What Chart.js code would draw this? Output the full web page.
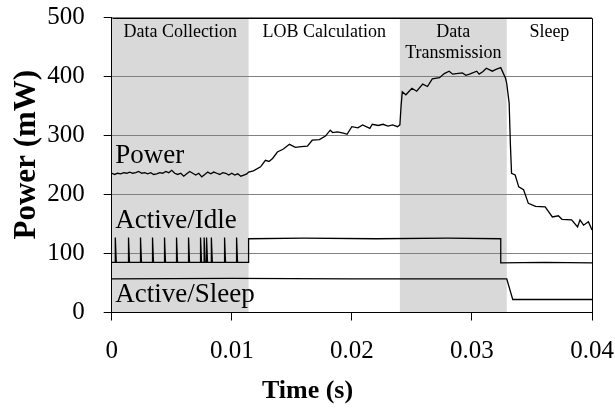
<!DOCTYPE html>
<html>
<head>
<meta charset="utf-8">
<script src="https://cdn.jsdelivr.net/npm/chart.js@4"></script>
<style>
  html, body { margin: 0; padding: 0; background: #fff; }
  #wrap { width: 615px; height: 408px; }
</style>
</head>
<body>
<div id="wrap"><canvas id="chart" width="615" height="408"></canvas></div>
<script>
// Power trace (mW) over time (s)
var powerTime = [0, 0.00025, 0.0005, 0.00075, 0.001, 0.00125, 0.0015, 0.00175, 0.002, 0.00225, 0.0025, 0.00275,
    0.003, 0.00325, 0.0035, 0.00375, 0.004, 0.00425, 0.0045, 0.00475, 0.005, 0.00525, 0.0055, 0.00575,
    0.006, 0.00625, 0.0065, 0.00675, 0.007, 0.00725, 0.0075, 0.00775, 0.008, 0.00825, 0.0085, 0.00875,
    0.009, 0.00925, 0.0095, 0.00975, 0.010, 0.01025, 0.0105, 0.01075, 0.011, 0.01125, 0.0114,
    0.0118, 0.0124, 0.0128, 0.0131, 0.0134, 0.0138, 0.0143, 0.0148, 0.0153, 0.0158, 0.0163, 0.0167,
    0.0173, 0.0178, 0.0182, 0.0184, 0.0188, 0.0193, 0.0196, 0.0200, 0.0205, 0.0209, 0.0215, 0.0217,
    0.0222, 0.0226, 0.0230, 0.0234, 0.0238, 0.0240,
    0.0241, 0.0242, 0.0245, 0.0250, 0.0254, 0.0259, 0.0263, 0.0267, 0.0273, 0.0277, 0.0281, 0.0284,
    0.0287, 0.0292, 0.0295, 0.0298, 0.0304, 0.0306, 0.0309, 0.0312, 0.0317, 0.0320, 0.0324, 0.0328,
    0.0329, 0.0331, 0.0332, 0.0333, 0.0336, 0.0339, 0.0343, 0.0347, 0.0353, 0.0361, 0.0367, 0.0372,
    0.0375, 0.0383, 0.0388, 0.0390, 0.0393, 0.0397, 0.0400];
var powerValues = [236, 234, 236, 235, 237, 236, 238, 236, 237, 239, 236, 237,
    235, 237, 234, 235, 237, 236, 239, 237, 241, 236, 234, 236,
    231, 235, 239, 236, 233, 236, 230, 234, 238, 235, 238, 236,
    234, 237, 236, 233, 236, 233, 235, 231, 233, 235, 238,
    240, 247, 258, 256, 261, 272, 277, 285, 280, 281, 282, 292,
    293, 299, 309, 305, 306, 304, 302, 315, 313, 318, 312, 319,
    317, 319, 316, 318, 315, 318,
    350, 374, 369, 380, 375, 387, 383, 396, 398, 405, 409, 404,
    405, 406, 402, 404, 409, 404, 408, 414, 409, 412, 415, 397,
    388, 355, 287, 236, 233, 213, 208, 185, 180, 179, 162, 164,
    158, 157, 145, 157, 148, 154, 140];

// Active/Idle trace
var idleTime = [0, 0.0003, 0.0003, 0.00038, 0.0014, 0.0014, 0.00148, 0.0024, 0.0024, 0.00248,
    0.0034, 0.0034, 0.00348, 0.0044, 0.0044, 0.00448, 0.0054, 0.0054, 0.00548, 0.0064, 0.0064, 0.00648,
    0.0074, 0.0074, 0.00748, 0.0077, 0.0077, 0.00778, 0.0079, 0.0079, 0.00798, 0.0083, 0.0083, 0.00838,
    0.0094, 0.0094, 0.00948, 0.0104, 0.0104, 0.01048, 0.0114, 0.0114, 0.016, 0.022, 0.028, 0.0324,
    0.0324, 0.036, 0.0400];
var idleValues = [85, 85, 127, 85, 85, 127, 85, 85, 127, 85,
    85, 127, 85, 85, 127, 85, 85, 127, 85, 85, 127, 85,
    85, 127, 85, 85, 127, 85, 85, 127, 85, 85, 127, 85,
    85, 127, 85, 85, 127, 85, 85, 125, 126, 125, 126, 125,
    84, 85, 84];

// Active/Sleep trace
var sleepTime = [0, 0.010, 0.020, 0.0329, 0.0334, 0.037, 0.0400];
var sleepValues = [57, 58, 57, 57, 22, 22, 22];

// Phases (shaded ones marked)
var phaseStart = [0, 0.0114, 0.0240, 0.0329];
var phaseEnd = [0.0114, 0.0240, 0.0329, 0.0400];
var phaseShaded = [true, false, true, false];
var phaseNames = [["Data Collection"], ["LOB Calculation"], ["Data", "Transmission"], ["Sleep"]];

var seriesNames = ["Power", "Active/Idle", "Active/Sleep"];
var seriesNameAt = [[0.0003, 253], [0.0003, 143], [0.0003, 18]];

var xTickLabels = ["0", "0.01", "0.02", "0.03", "0.04"];
var yTickLabels = ["0", "100", "200", "300", "400", "500"];
var xTitle = "Time (s)";
var yTitle = "Power (mW)";

var serif = "'Liberation Serif', 'Times New Roman', serif";

function toPoints(xs, ys) {
    return xs.map(function (x, i) { return { x: x, y: ys[i] }; });
}

// tick padding otherwise leaks into the plot margins
function noEdgePadding(s) {
    s.paddingTop = 0;
    s.paddingBottom = 0;
    s.paddingLeft = 0;
    s.paddingRight = 0;
}

var phasePlugin = {
    id: 'phases',
    beforeDraw: function (chart) {
        var ctx = chart.ctx, xs = chart.scales.x, area = chart.chartArea;
        ctx.save();
        ctx.fillStyle = '#d9d9d9';
        phaseStart.forEach(function (s, i) {
            if (!phaseShaded[i]) return;
            var x0 = xs.getPixelForValue(s), x1 = xs.getPixelForValue(phaseEnd[i]);
            ctx.fillRect(x0, area.top, x1 - x0, area.bottom - area.top);
        });
        ctx.restore();
    },
    afterDatasetsDraw: function (chart) {
        var ctx = chart.ctx, xs = chart.scales.x, ys = chart.scales.y, area = chart.chartArea;
        ctx.save();
        // phase names
        ctx.fillStyle = '#000';
        ctx.font = '18px ' + serif;
        ctx.textAlign = 'center';
        ctx.textBaseline = 'middle';
        phaseNames.forEach(function (lines, i) {
            var cx = xs.getPixelForValue((phaseStart[i] + phaseEnd[i]) / 2);
            lines.forEach(function (t, j) {
                ctx.fillText(t, cx, ys.getPixelForValue(475) + j * 21);
            });
        });
        // series names
        ctx.font = '27px ' + serif;
        ctx.textAlign = 'left';
        ctx.textBaseline = 'alphabetic';
        seriesNames.forEach(function (t, i) {
            ctx.fillText(t, xs.getPixelForValue(seriesNameAt[i][0]), ys.getPixelForValue(seriesNameAt[i][1]));
        });
        // frame top / right
        ctx.strokeStyle = '#000';
        ctx.lineWidth = 1;
        ctx.beginPath();
        ctx.moveTo(Math.round(area.left) + 0.5, Math.round(area.top) + 0.5);
        ctx.lineTo(Math.round(area.right) + 0.5, Math.round(area.top) + 0.5);
        ctx.lineTo(Math.round(area.right) + 0.5, Math.round(area.bottom) + 0.5);
        ctx.stroke();
        // axis titles
        ctx.font = 'bold 26px ' + serif;
        ctx.textAlign = 'center';
        ctx.textBaseline = 'middle';
        ctx.fillText(xTitle, chart.width / 2, chart.height - 17);
        ctx.translate(27, area.top + (area.bottom - area.top) * 0.465);
        ctx.rotate(-Math.PI / 2);
        ctx.font = 'bold 31px ' + serif;
        ctx.fillText(yTitle, 0, 0);
        ctx.restore();
    }
};

var lineStyle = { borderColor: '#000', borderWidth: 1.3, pointRadius: 0, showLine: true, tension: 0, fill: false };

new Chart(document.getElementById('chart'), {
    type: 'scatter',
    data: {
        datasets: [
            Object.assign({ label: seriesNames[0], data: toPoints(powerTime, powerValues) }, lineStyle),
            Object.assign({ label: seriesNames[1], data: toPoints(idleTime, idleValues) }, lineStyle),
            Object.assign({ label: seriesNames[2], data: toPoints(sleepTime, sleepValues) }, lineStyle)
        ]
    },
    options: {
        responsive: false,
        animation: false,
        layout: { padding: { top: 17.5, right: 23, left: 0, bottom: 0 } },
        plugins: { legend: { display: false }, tooltip: { enabled: false } },
        scales: {
            x: {
                type: 'linear', min: 0, max: 0.04,
                afterBuildTicks: function (s) {
                    s.ticks = xTickLabels.map(function (l, i) { return { value: i * 0.01 }; });
                },
                ticks: {
                    callback: function (v, i) { return xTickLabels[i]; },
                    font: { family: serif, size: 25 }, color: '#000', padding: 16, maxRotation: 0
                },
                grid: { drawOnChartArea: false, drawTicks: true, tickLength: 8, color: '#000' },
                border: { color: '#000', width: 1 },
                afterFit: function (s) { s.height = 95.5; noEdgePadding(s); }
            },
            y: {
                min: 0, max: 500,
                ticks: {
                    stepSize: 100,
                    callback: function (v, i) { return yTickLabels[i]; },
                    font: { family: serif, size: 25 }, color: '#000', padding: 19
                },
                grid: { color: '#808080', tickColor: '#000', tickLength: 8 },
                border: { color: '#000', width: 1 },
                afterFit: function (s) { s.width = 111.7; noEdgePadding(s); }
            }
        }
    },
    plugins: [phasePlugin]
});
</script>
</body>
</html>
